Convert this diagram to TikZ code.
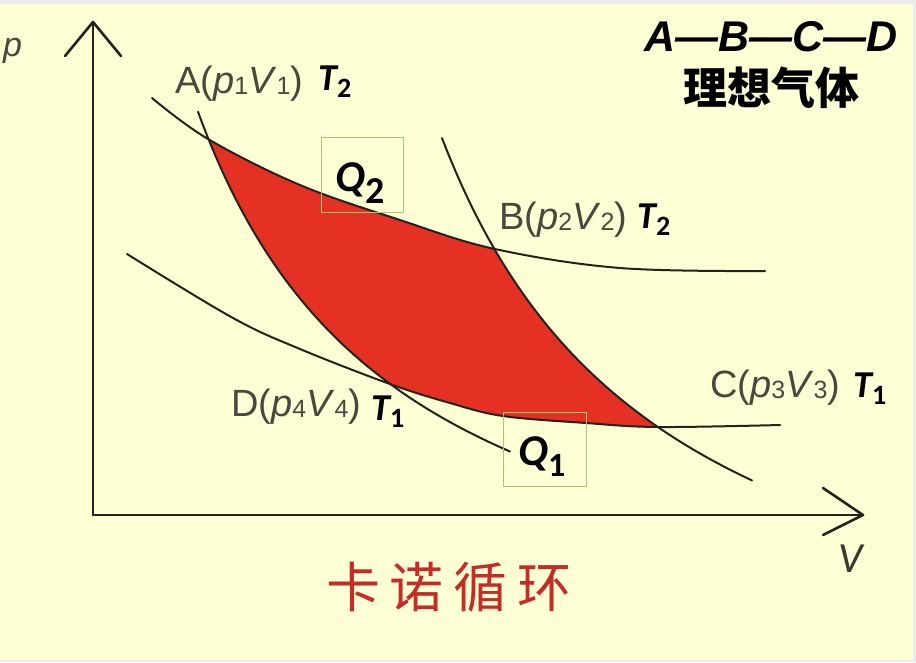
\documentclass[tikz,border=0pt]{standalone}
\usepackage{fontspec}
\setmainfont{Liberation Sans}
\newfontfamily\calib{Carlito}
\newfontfamily\cjk{Noto Sans CJK SC}
\definecolor{bgY}{RGB}{255,255,214}
\definecolor{frameG}{RGB}{236,236,238}
\definecolor{lineC}{RGB}{35,35,28}
\definecolor{grayT}{RGB}{72,72,62}
\definecolor{boxG}{RGB}{165,198,115}
\definecolor{cycleRed}{RGB}{229,49,35}
\definecolor{titleRed}{RGB}{200,42,36}
\newcommand\lsub[1]{\raisebox{-1pt}{\fontsize{25}{25}\selectfont #1}}
\newcommand\tsub[1]{\raisebox{-7pt}{\upshape\fontsize{28}{28}\selectfont #1}}
\begin{document}
\begin{tikzpicture}[x=1pt,y=-1pt,
  curve/.style={line width=2pt, draw=lineC, line cap=round},
  axis/.style={line width=2.6pt, draw=lineC, line cap=round, line join=round},
  glabel/.style={text=grayT, font=\fontsize{38}{38}\selectfont, inner sep=0pt, anchor=base west},
  tlabel/.style={text=black, font=\calib\bfseries\itshape\fontsize{38}{38}\selectfont, inner sep=0pt, anchor=base west},
  qbox/.style={draw=boxG, line width=1pt, inner sep=0pt},
  qtext/.style={text=black, font=\calib\bfseries\itshape\fontsize{44}{44}\selectfont, inner sep=0pt, anchor=base west}]
% background
\fill[frameG] (0,0) rectangle (916,662);
\fill[bgY] (0,4) rectangle (913,660);
\useasboundingbox (0,0) rectangle (916,662);

% red cycle region (intersection of the four half-planes)
\begin{scope}
\clip plot[smooth, tension=0.6] coordinates {(152,98) (208,139) (300,185) (400,220) (495,249) (620,268) (765,271)} -- (765,662) -- (152,662) -- cycle;
\clip plot[smooth, tension=0.6] coordinates {(127,254) (233,318) (300,349) (390,384) (450,403) (503,416) (586,423) (658,427) (780,425)} -- (780,0) -- (127,0) -- cycle;
\clip plot[domain=198:510, samples=90] (\x, {676 - 1163.44/((\x+8.2)/100)}) -- (510,662) -- (916,662) -- (916,0) -- (198,0) -- cycle;
\clip plot[domain=442:752, samples=90] (\x, {732.7 - 1358.2/((\x-213.6)/100)}) -- (752,662) -- (0,662) -- (0,0) -- (442,0) -- cycle;
\fill[cycleRed] (0,0) rectangle (916,662);
\end{scope}

% curves: isotherms and adiabats
\draw[curve] plot[smooth, tension=0.6] coordinates {(152,98) (208,139) (300,185) (400,220) (495,249) (620,268) (765,271)};
\draw[curve] plot[smooth, tension=0.6] coordinates {(127,254) (233,318) (300,349) (390,384) (450,403) (503,416) (586,423) (658,427) (780,425)};
\draw[curve] plot[domain=198:510, samples=90] (\x, {676 - 1163.44/((\x+8.2)/100)});
\draw[curve] plot[domain=442:752, samples=90] (\x, {732.7 - 1358.2/((\x-213.6)/100)});

% axes
\coordinate (O) at (93,515);
\coordinate (ytip) at (93,22);
\coordinate (xtip) at (863,515);
\draw[axis] (O) -- (ytip);
\draw[axis] (O) -- (xtip);
\draw[axis] ([shift={(-28,34)}]ytip) -- (ytip) -- ([shift={(28,34)}]ytip);
\draw[axis] ([shift={(-40,-27)}]xtip) -- (xtip) -- ([shift={(-40,20)}]xtip);
\node (plab) [text=grayT, font=\itshape\fontsize{34}{34}\selectfont, inner sep=0pt, anchor=base west] at (3,56) {p};
\node (vlab) [text=grayT!80!black, font=\calib\itshape\fontsize{43}{43}\selectfont, inner sep=0pt, anchor=base west] at (838,572) {V};

% point labels
\node (labA) [glabel] at (175,93) {A(\textit{p}\lsub{1}\textit{V}\lsub{1})};
\node (labAT) [tlabel] at (318,90) {T\tsub{2}};
\node (labB) [glabel] at (499,229) {B(\textit{p}\lsub{2}\textit{V}\lsub{2})};
\node (labBT) [tlabel] at (637,228) {T\tsub{2}};
\node (labD) [glabel] at (231,416) {D(\textit{p}\lsub{4}\textit{V}\lsub{4})};
\node (labDT) [tlabel] at (371,420) {T\tsub{1}};
\node (labC) [glabel] at (710,397) {C(\textit{p}\lsub{3}\textit{V}\lsub{3})};
\node (labCT) [tlabel] at (853,397) {T\tsub{1}};

% heat boxes
\node (q2box) [qbox, minimum width=82pt, minimum height=75pt] at (362,174.5) {};
\node (q2) [qtext] at (335,191) {Q\raisebox{-12pt}{\upshape\fontsize{38}{38}\selectfont 2}};
\node (q1box) [qbox, minimum width=83pt, minimum height=74pt] at (544.5,449) {};
\node (q1) [qtext] at (518,465) {Q\raisebox{-11pt}{\upshape\fontsize{34}{34}\selectfont 1}};

% titles
\node (abcd) [text=black, font=\bfseries\itshape\fontsize{43}{43}\selectfont, inner sep=0pt, anchor=base east] at (898,51) {A—B—C—D};
\node (gas) [text=black, font=\cjk\bfseries\fontsize{44}{44}\selectfont, inner sep=0pt, anchor=base] at (771,104) {理想气体};
\node (carnot) [text=titleRed, font=\cjk\fontsize{54}{54}\selectfont, inner sep=0pt, anchor=base] at (449,607) {卡\hspace{10pt}诺\hspace{10pt}循\hspace{10pt}环};
\end{tikzpicture}
\end{document}
